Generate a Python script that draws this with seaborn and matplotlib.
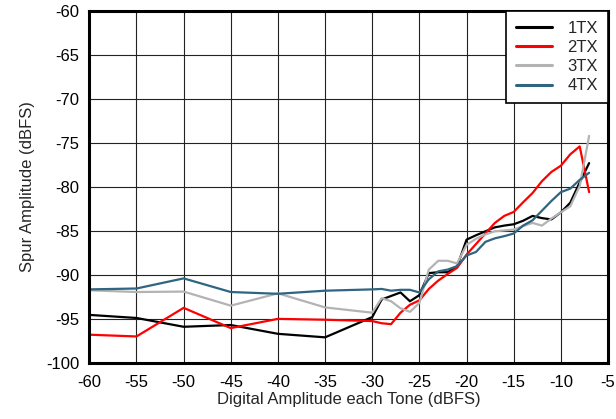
import matplotlib
matplotlib.use("Agg")
import matplotlib.pyplot as plt
import seaborn as sns
import pandas as pd

# input level per tone (dBFS): coarse steps, then 1 dB steps from -30
tone_level = [-60, -55, -50, -45, -40, -35,
              -30, -29, -28, -27, -26, -25, -24, -23, -22, -21,
              -20, -19, -18, -17, -16, -15, -14, -13, -12, -11,
              -10, -9, -8, -7]

spur_1tx = [-94.55, -94.9, -95.9, -95.7, -96.7, -97.1,
            -94.8, -92.8, -92.4, -92.0, -93.0, -92.3, -89.8, -89.7, -89.7, -89.05,
            -86.0, -85.5, -85.05, -84.6, -84.4, -84.25, -83.85, -83.3, -83.55, -83.7,
            -82.9, -81.8, -79.5, -77.3]
spur_2tx = [-96.8, -97.0, -93.75, -96.05, -95.0, -95.1,
            -95.25, -95.5, -95.6, -94.3, -93.4, -92.9, -91.6, -90.65, -89.9, -89.2,
            -87.7, -86.5, -85.3, -84.1, -83.3, -82.85, -81.75, -80.7, -79.35, -78.3,
            -77.6, -76.3, -75.4, -80.6]
spur_3tx = [-91.75, -91.95, -91.9, -93.5, -92.1, -93.7,
            -94.3, -92.65, -93.0, -93.8, -94.2, -93.2, -89.4, -88.4, -88.4, -88.7,
            -86.6, -85.9, -85.4, -85.05, -84.95, -84.85, -84.45, -84.1, -84.4, -83.6,
            -82.9, -82.2, -79.9, -74.2]
spur_4tx = [-91.65, -91.55, -90.4, -91.95, -92.15, -91.8,
            -91.65, -91.6, -91.8, -91.7, -91.7, -92.0, -90.5, -89.6, -89.4, -89.0,
            -87.8, -87.4, -86.25, -85.85, -85.6, -85.3, -84.4, -83.8, -82.7, -81.6,
            -80.6, -80.2, -79.2, -78.4]

series_names = ["1TX", "2TX", "3TX", "4TX"]
series_colors = ["#000000", "#ff0000", "#b3b3b3", "#2f6580"]

x_ticks = list(range(-60, -4, 5))
y_ticks = list(range(-100, -59, 5))

frames = []
for name, vals in zip(series_names, [spur_1tx, spur_2tx, spur_3tx, spur_4tx]):
    frames.append(pd.DataFrame({"x": tone_level, "y": vals, "config": name}))
df = pd.concat(frames, ignore_index=True)

sns.set_style("white")
plt.rcParams["font.family"] = ["Liberation Sans", "DejaVu Sans"]
plt.rcParams["axes.unicode_minus"] = False

fig = plt.figure(figsize=(6.16, 4.19), dpi=100)
ax = fig.add_axes([0.145, 0.134, 0.842, 0.840])

sns.lineplot(data=df, x="x", y="y", hue="config", palette=series_colors,
             hue_order=series_names, linewidth=1.6, ax=ax, sort=False,
             estimator=None)

ax.set_xlim(-60, -5)
ax.set_ylim(-100, -60)
ax.set_xticks(x_ticks)
ax.set_yticks(y_ticks)
ax.grid(True, color="#222222", linewidth=0.8)
ax.tick_params(length=0, labelsize=12, colors="black")
ax.tick_params(axis="x", pad=9)
ax.tick_params(axis="y", pad=7)
for s in ax.spines.values():
    s.set_color("black")
    s.set_linewidth(2.2)

ax.set_xlabel("Digital Amplitude each Tone (dBFS)", fontsize=12, labelpad=1)
ax.set_ylabel("Spur Amplitude (dBFS)", fontsize=12, labelpad=8)

leg = ax.legend(loc="upper right", fontsize=12, frameon=True, fancybox=False,
                borderaxespad=0, handlelength=2.2, labelspacing=0.25,
                borderpad=0.6, handletextpad=0.9)
leg.get_frame().set_edgecolor("black")
leg.get_frame().set_linewidth(1.2)
leg.get_frame().set_alpha(1)
for line in leg.get_lines():
    line.set_linewidth(2.2)

fig.savefig("out.png", dpi=100)
